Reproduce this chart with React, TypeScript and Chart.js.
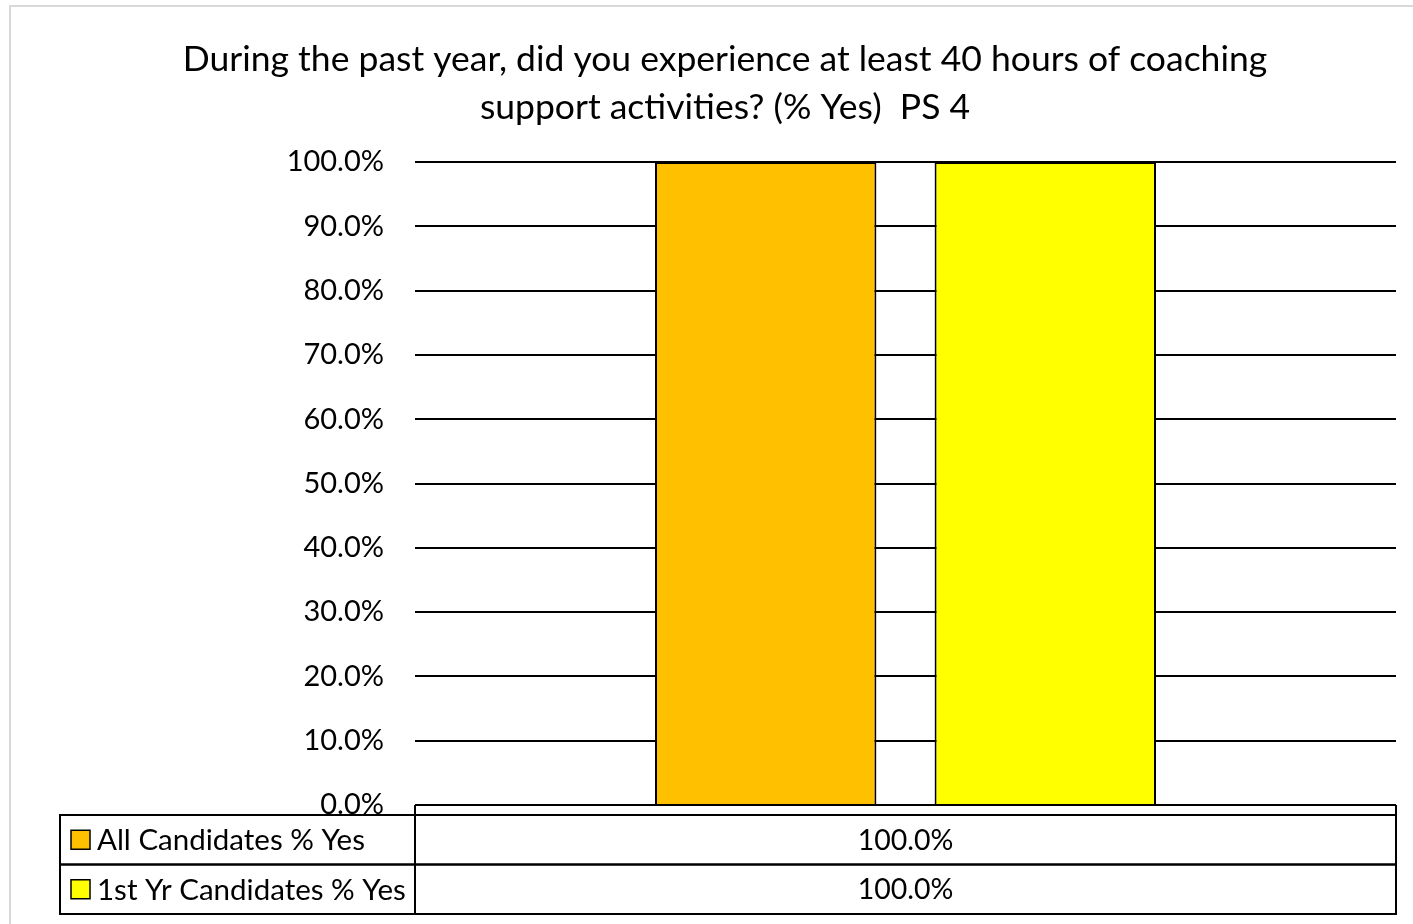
import React, { useEffect, useRef } from "react";
import { Chart, registerables } from "chart.js";

Chart.register(...registerables);

const titleLines = [
  "During the past year, did you experience at least 40 hours of coaching",
  "support activities? (% Yes)  PS 4",
];
const categories = [""];
const seriesNames = ["All Candidates % Yes", "1st Yr Candidates % Yes"];
const allCandidates = [100.0];
const firstYrCandidates = [100.0];
const seriesColors = ["#FFC000", "#FFFF00"];
const yMin = 0;
const yMax = 100;
const yStep = 10;

const FONT = "Lato";

const fmt = (v: number) => v.toFixed(1) + "%";

const framePlugin = {
  id: "frame",
  beforeDraw(chart: any) {
    const ctx = chart.ctx;
    ctx.save();
    ctx.fillStyle = "#fff";
    ctx.fillRect(0, 0, chart.width, chart.height);
    ctx.strokeStyle = "#d9d9d9";
    ctx.lineWidth = 2;
    ctx.strokeRect(10, 6, chart.width + 50, chart.height + 50);
    ctx.restore();
  },
};

const tablePlugin = {
  id: "dataTable",
  afterDraw(chart: any) {
    const { ctx, chartArea } = chart;
    const xs = chart.scales.x;
    const left = chartArea.left;
    const right = chartArea.right;
    const top = chartArea.bottom;
    const headerH = 10;
    const rowH = 49.5;
    const labelLeft = 60;
    ctx.save();
    ctx.fillStyle = "#fff";
    ctx.fillRect(labelLeft, top + headerH, right - labelLeft, rowH * 2 + 2);
    ctx.strokeStyle = "#000";
    ctx.lineWidth = 2;
    // header row (category names)
    ctx.beginPath();
    ctx.moveTo(left, top);
    ctx.lineTo(right, top);
    ctx.moveTo(left, top);
    ctx.lineTo(left, top + headerH);
    ctx.moveTo(right, top);
    ctx.lineTo(right, top + headerH);
    ctx.stroke();
    ctx.textBaseline = "middle";
    chart.data.datasets.forEach((ds: any, i: number) => {
      const y0 = top + headerH + i * rowH;
      ctx.strokeStyle = "#000";
      ctx.lineWidth = 2;
      ctx.strokeRect(labelLeft, y0, right - labelLeft, rowH);
      ctx.beginPath();
      ctx.moveTo(left, y0);
      ctx.lineTo(left, y0 + rowH);
      ctx.stroke();
      // legend key
      const ks = 19;
      ctx.fillStyle = ds.backgroundColor;
      ctx.fillRect(labelLeft + 11, y0 + rowH / 2 - ks / 2, ks, ks);
      ctx.lineWidth = 1.5;
      ctx.strokeRect(labelLeft + 11, y0 + rowH / 2 - ks / 2, ks, ks);
      ctx.fillStyle = "#000";
      ctx.textAlign = "left";
      ctx.font = `29.5px ${FONT}`;
      ctx.fillText(ds.label, labelLeft + 37, y0 + rowH / 2 + 1);
      ctx.textAlign = "center";
      ctx.font = `28.5px ${FONT}`;
      categories.forEach((_c, j) => {
        const cx = xs.getPixelForValue(j);
        ctx.fillText(fmt(ds.data[j]), cx, y0 + rowH / 2 + 1);
      });
    });
    ctx.restore();
  },
};

export default function App() {
  const ref = useRef<HTMLCanvasElement | null>(null);
  useEffect(() => {
    document.body.style.margin = "0";
    if (!ref.current) return;
    const chart = new Chart(ref.current, {
      type: "bar",
      data: {
        labels: categories,
        datasets: [
          {
            label: seriesNames[0],
            data: allCandidates,
            backgroundColor: seriesColors[0],
            borderColor: "#000",
            borderWidth: 2,
            barPercentage: 0.792,
            categoryPercentage: 0.57,
          },
          {
            label: seriesNames[1],
            data: firstYrCandidates,
            backgroundColor: seriesColors[1],
            borderColor: "#000",
            borderWidth: 2,
            barPercentage: 0.792,
            categoryPercentage: 0.57,
          },
        ],
      },
      options: {
        animation: false,
        responsive: true,
        maintainAspectRatio: false,
        layout: { padding: { left: 54, right: 17, top: 0, bottom: 119 } },
        plugins: {
          legend: { display: false },
          tooltip: { enabled: false },
          title: {
            display: true,
            text: titleLines,
            color: "#000",
            font: { family: FONT, size: 35.5, weight: "normal", lineHeight: "48px" },
            padding: { top: 36, bottom: 30 },
          },
        },
        scales: {
          x: { display: false },
          y: {
            min: yMin,
            max: yMax,
            border: { display: false },
            grid: { color: "#000", lineWidth: 2, drawTicks: false },
            ticks: {
              stepSize: yStep,
              padding: 31,
              color: "#000",
              font: { family: FONT, size: 29 },
              callback: (v: any) => fmt(Number(v)),
            },
            afterFit: (s: any) => {
              s.width = 361;
            },
          },
        },
      },
      plugins: [framePlugin, tablePlugin],
    });
    return () => chart.destroy();
  }, []);
  return (
    <div style={{ width: 1413, height: 924, position: "relative" }}>
      <canvas ref={ref} />
    </div>
  );
}
